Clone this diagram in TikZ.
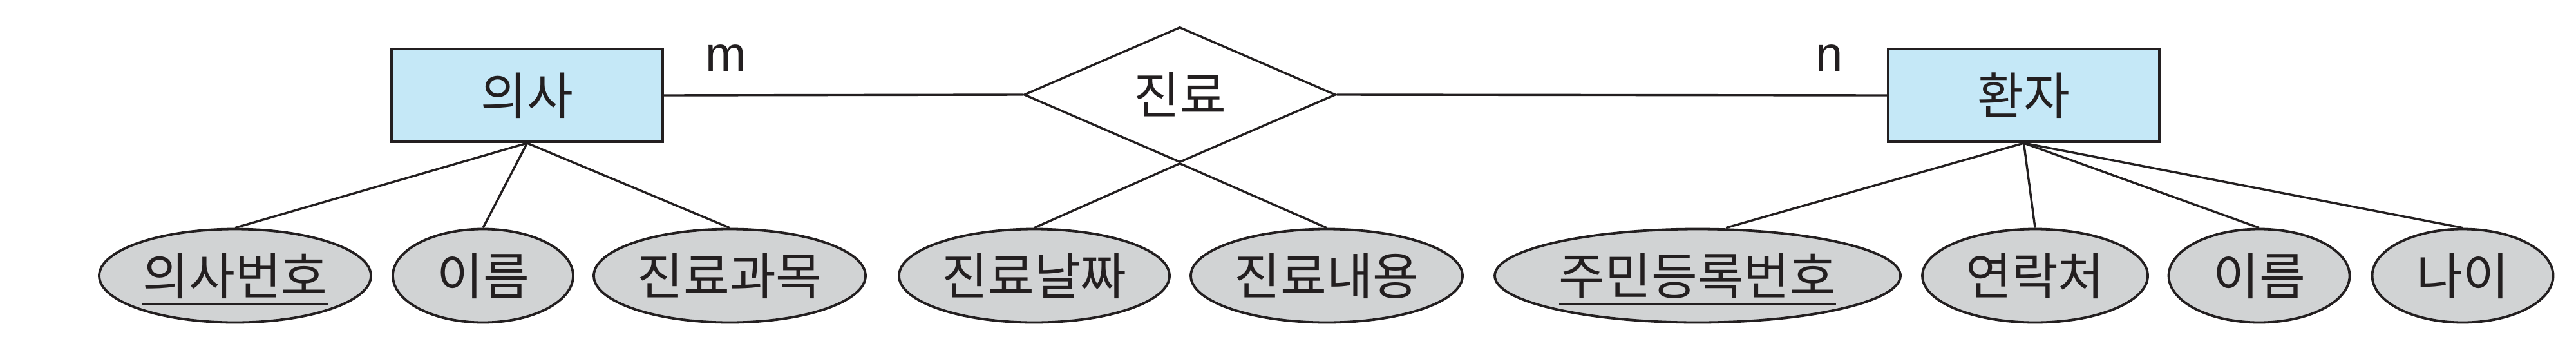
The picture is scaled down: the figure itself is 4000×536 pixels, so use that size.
\documentclass[tikz,border=0pt]{standalone}
\usepackage{fontspec}
\setmainfont{Noto Sans CJK KR}
\newfontfamily\latinsans{Liberation Sans}
\usetikzlibrary{shapes.geometric}
\definecolor{entfill}{HTML}{C5E8F7}
\definecolor{attfill}{HTML}{D1D3D4}
\definecolor{ink}{HTML}{231F20}
\newcommand\keyul[1]{\setbox0\hbox{#1}\rlap{\smash{\raisebox{-4.1pt}{\rule{\wd0}{0.7pt}}}}\box0}
\begin{document}
\begin{tikzpicture}[x=0.25pt,y=-0.25pt,
  lbl/.style={font=\fontsize{19.5}{21}\selectfont,text=ink},
  entity/.style={lbl,draw=ink,line width=1.05pt,fill=entfill,minimum width=105.25pt,minimum height=36pt,inner sep=0pt},
  attr/.style={lbl,ellipse,draw=ink,line width=0.95pt,fill=attfill,minimum height=36.25pt,inner sep=0pt},
  rel/.style={lbl,diamond,draw=ink,line width=0.85pt,fill=white,aspect=2.3,minimum width=121pt,minimum height=52.5pt,inner sep=0pt},
  card/.style={inner sep=0pt,font=\latinsans\fontsize{19}{21}\selectfont,text=ink},
  link/.style={draw=ink,line width=0.85pt}]
\useasboundingbox (0,0) rectangle (4000,536);

% entities and relationship
\node[entity] (doc) at (818.5,148) {의사};
\node[rel] (treat) at (1832,147) {진료};
\node[entity] (pat) at (3142.5,148) {환자};

% cardinalities
\node[card] (m) at (1127,90) {m};
\node[card] (n) at (2841,90) {n};

% attributes
\node[attr,minimum width=105.5pt] (docno) at (365,428) {\keyul{의사번호}};
\node[attr,minimum width=70pt] (docname) at (750,428) {이름};
\node[attr,minimum width=105.5pt] (dept) at (1133,428) {진료과목};
\node[attr,minimum width=105pt] (tdate) at (1606,428) {진료날짜};
\node[attr,minimum width=105.5pt] (tdesc) at (2060,428) {진료내용};
\node[attr,minimum width=157.5pt] (rrn) at (2636,428) {\keyul{주민등록번호}};
\node[attr,minimum width=87.5pt] (phone) at (3160,428) {연락처};
\node[attr,minimum width=70.25pt] (pname) at (3508,428) {이름};
\node[attr,minimum width=70.25pt] (age) at (3824,428) {나이};

% connectors
\draw[link] (doc.east) -- (treat.west);
\draw[link] (treat.east) -- (pat.west);
\draw[link] (doc.south) -- (docno.north);
\draw[link] (doc.south) -- (docname.north);
\draw[link] (doc.south) -- (dept.north);
\draw[link] (treat.south) -- (tdate.north);
\draw[link] (treat.south) -- (tdesc.north);
\draw[link] (pat.south) -- ([xshift=11pt]rrn.north);
\draw[link] (pat.south) -- (phone.north);
\draw[link] (pat.south) -- (pname.north);
\draw[link] (pat.south) -- (age.north);
\end{tikzpicture}
\end{document}
